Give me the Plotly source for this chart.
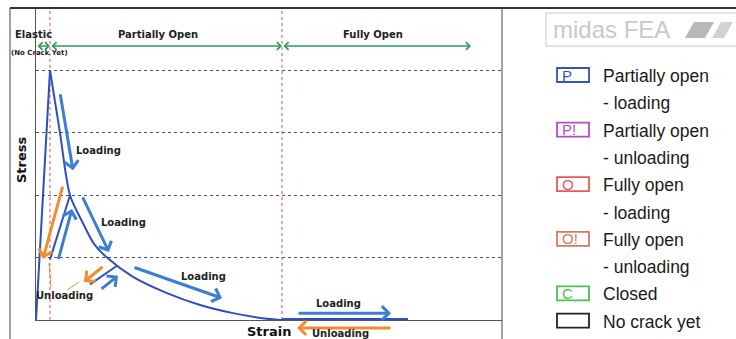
import plotly.graph_objects as go

# ---------------- data (strain units / stress units) ----------------
rise_strain = [0, 14]
rise_stress = [0, 4.0]

soft_strain = [14, 24, 34, 47, 58, 71, 97, 131, 164, 197, 231, 246]
soft_stress = [4.0, 3.0, 2.0, 1.55, 1.22, 1.0, 0.69, 0.43, 0.24, 0.11, 0.02, 0.0]

flat_strain = [246, 372]
flat_stress = [0.0, 0.0]

unload1_strain = [34, 14]
unload1_stress = [2.0, 0.97]
unload2_strain = [81, 54]
unload2_stress = [0.87, 0.57]

crack_bounds = [14, 246]          # red dotted verticals
grid_stress = [1, 2, 3, 4]

# arrows inside the plot: tail strain, tail stress, head strain, head stress, kind
arrow_tail_x = [24, 27, 22, 46, 68, 64, 97, 261]
arrow_tail_y = [3.64, 2.16, 0.95, 1.99, 0.87, 0.48, 0.85, 0.11]
arrow_head_x = [37, 7, 36, 73, 48, 82, 186, 355]
arrow_head_y = [2.40, 0.98, 1.78, 1.09, 0.61, 0.71, 0.35, 0.11]
arrow_kind = ["load", "unload", "load", "load", "unload", "load", "load", "load"]
# unloading arrow below the strain axis (strain tail, strain head)
below_arrow = [356, 261]

# region spans (green double arrows)
region_names = ["Elastic", "Partially Open", "Fully Open"]
region_start = [0, 14, 246]
region_end = [14, 246, 435]
region_level = 4.39

# labels inside the plot
label_text = ["Loading", "Loading", "Loading", "Unloading", "Loading"]
label_x = [62, 87, 167, 28, 302]
label_y = [2.72, 1.57, 0.69, 0.40, 0.27]

legend_codes = ["P", "P!", "O", "O!", "C", ""]
legend_lines = [["Partially open", "- loading"], ["Partially open", "- unloading"],
                ["Fully open", "- loading"], ["Fully open", "- unloading"],
                ["Closed"], ["No crack yet"]]
legend_colors = ["#3552c4", "#b44cc8", "#e85a5a", "#d87a58", "#4cc24c", "#222222"]

# ---------------- styles ----------------
CURVE = "#2f4fbf"
BLUE = "#3a7fd2"
ORANGE = "#f28c2e"
GREEN = "#2e9b5e"
RED = "#e8485a"

W, H = 736, 339
L, R, T, B = 36, 234, 8, 19
PW, PH = W - L - R, H - T - B


def PX(px):
    return (px - L) / PW


def PY(py):
    return (H - B - py) / PH


fig = go.Figure()

for xb in crack_bounds:
    fig.add_trace(go.Scatter(x=[xb, xb], y=[0, 5], mode="lines",
                             line=dict(color=RED, width=1, dash="dot"),
                             hoverinfo="skip", showlegend=False))

fig.add_trace(go.Scatter(x=rise_strain, y=rise_stress, mode="lines",
                         line=dict(color=CURVE, width=2), showlegend=False))
fig.add_trace(go.Scatter(x=soft_strain, y=soft_stress, mode="lines",
                         line=dict(color=CURVE, width=2, shape="spline", smoothing=0.8),
                         showlegend=False))
fig.add_trace(go.Scatter(x=flat_strain, y=flat_stress, mode="lines",
                         line=dict(color=CURVE, width=4), showlegend=False))
fig.add_trace(go.Scatter(x=unload1_strain, y=unload1_stress, mode="lines",
                         line=dict(color=CURVE, width=2), showlegend=False))
fig.add_trace(go.Scatter(x=unload2_strain, y=unload2_stress, mode="lines",
                         line=dict(color=CURVE, width=2), showlegend=False))

# thin orange leader lines of the "Unloading" label
fig.add_trace(go.Scatter(x=[13, 15], y=[0.91, 0.53], mode="lines",
                         line=dict(color=ORANGE, width=1), showlegend=False))
fig.add_trace(go.Scatter(x=[31, 43], y=[0.48, 0.61], mode="lines",
                         line=dict(color=ORANGE, width=1), showlegend=False))

ann = []
for tx, ty, hx, hy, k in zip(arrow_tail_x, arrow_tail_y, arrow_head_x, arrow_head_y, arrow_kind):
    ann.append(dict(x=hx, y=hy, ax=tx, ay=ty, xref="x", yref="y", axref="x", ayref="y",
                    text="", showarrow=True, arrowhead=4, arrowsize=0.9, arrowwidth=3,
                    arrowcolor=BLUE if k == "load" else ORANGE, standoff=0))
ann.append(dict(x=below_arrow[1], y=PY(328), ax=below_arrow[0], ay=0, xref="x", yref="paper",
                axref="x", ayref="pixel", text="", showarrow=True, arrowhead=4, arrowsize=0.9,
                arrowwidth=3, arrowcolor=ORANGE, standoff=0))

for s, e in zip(region_start, region_end):
    ann.append(dict(x=e, y=region_level, ax=s, ay=region_level, xref="x", yref="y",
                    axref="x", ayref="y", text="", showarrow=True, arrowhead=4,
                    startarrowhead=4, arrowside="end+start", arrowsize=1.0,
                    startarrowsize=1.0, arrowwidth=1.5, arrowcolor=GREEN,
                    standoff=0, startstandoff=0))

BF = "DejaVu Sans"


def ptext(x, y, text, size, color="#222", family=BF, xanchor="center", angle=0):
    ann.append(dict(x=PX(x), y=PY(y), xref="paper", yref="paper", text=text,
                    xanchor=xanchor, yanchor="middle", textangle=angle, showarrow=False,
                    font=dict(family=family, size=size, color=color)))


region_label_px = [33, 158, 373]
for name, lx in zip(region_names, region_label_px):
    ptext(lx, 34, "<b>%s</b>" % name, 10)
ptext(39, 53, "<b>(No Crack Yet)</b>", 7)

for t, lx, ly in zip(label_text, label_x, label_y):
    ann.append(dict(x=lx, y=ly, xref="x", yref="y", text="<b>%s</b>" % t, showarrow=False,
                    xanchor="center", yanchor="middle",
                    font=dict(family=BF, size=10, color="#222")))
ptext(340, 333, "<b>Unloading</b>", 10)
ptext(269, 331, "<b>Strain</b>", 13, "#111")
ptext(21, 160, "<b>Stress</b>", 13, "#111", angle=-90)

shapes = []
shapes.append(dict(type="line", xref="paper", yref="paper", x0=PX(10), x1=PX(W + 2),
                   y0=PY(8), y1=PY(8), line=dict(color="#333", width=2)))
shapes.append(dict(type="line", xref="paper", yref="paper", x0=PX(10), x1=PX(10),
                   y0=PY(8), y1=PY(H + 2), line=dict(color="#444", width=1)))
shapes.append(dict(type="line", xref="paper", yref="paper", x0=PX(502), x1=PX(502),
                   y0=PY(8), y1=PY(H + 2), line=dict(color="#444", width=1)))

# midas FEA logo box
shapes.append(dict(type="rect", xref="paper", yref="paper", x0=PX(546), x1=PX(W + 5),
                   y0=PY(46), y1=PY(13), line=dict(color="#dcdcdc", width=1.5)))
shapes.append(dict(type="path", xref="paper", yref="paper",
                   path="M%f,%f L%f,%f L%f,%f L%f,%f Z" % (PX(685), PY(38), PX(694), PY(22),
                                                           PX(714), PY(22), PX(705), PY(38)),
                   fillcolor="#b9b9b9", line=dict(width=0)))
shapes.append(dict(type="path", xref="paper", yref="paper",
                   path="M%f,%f L%f,%f L%f,%f L%f,%f Z" % (PX(712), PY(38), PX(721), PY(22),
                                                           PX(733), PY(22), PX(724), PY(38)),
                   fillcolor="#d2d2d2", line=dict(width=0)))
ptext(551, 30, "midas FEA", 24, "#c9c9c9", "Liberation Sans", "left")

line_y = 76
pitch = 27.3
LF = "Liberation Sans"
for code, lines, col in zip(legend_codes, legend_lines, legend_colors):
    cy = line_y - 1
    shapes.append(dict(type="rect", xref="paper", yref="paper", x0=PX(557), x1=PX(589),
                       y0=PY(cy + 7), y1=PY(cy - 7), line=dict(color=col, width=1.8)))
    if code:
        ptext(560, cy, code, 15, col, LF, "left")
    for ln in lines:
        ptext(601, line_y, ln, 17.5, "#1a1a1a", LF, "left")
        line_y += pitch

fig.update_layout(
    width=W, height=H,
    margin=dict(l=L, r=R, t=T, b=B, pad=0),
    paper_bgcolor="white", plot_bgcolor="white",
    showlegend=False,
    annotations=ann, shapes=shapes,
    xaxis=dict(range=[0, PW], showgrid=False, zeroline=False, showline=True,
               linecolor="#555", linewidth=1, showticklabels=False, ticks=""),
    yaxis=dict(range=[0, PH / 62.4], tickvals=grid_stress, showgrid=True, gridcolor="#555",
               griddash="dot", gridwidth=1, zeroline=False, showline=True,
               linecolor="#555", linewidth=1, showticklabels=False, ticks=""),
)

fig.write_html("out.html", config={"displayModeBar": False},
               post_script="document.body.style.margin='0px';document.body.style.overflow='hidden';")
